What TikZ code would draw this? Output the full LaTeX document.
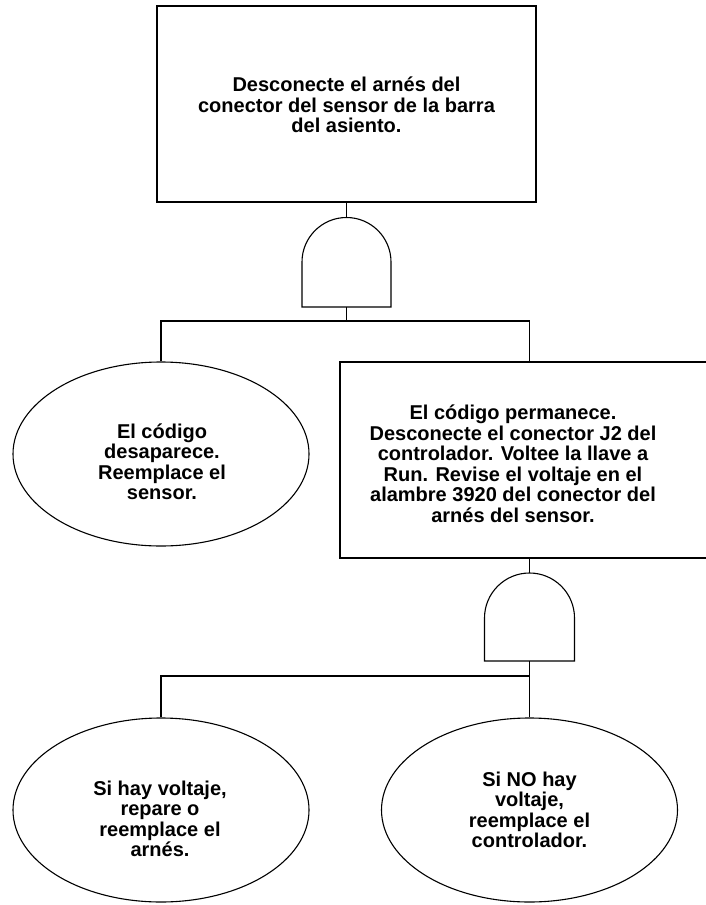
\documentclass[tikz,border=0pt]{standalone}
\usepackage{fontspec}
\setmainfont{Liberation Sans}
\usetikzlibrary{shapes.geometric}
\tikzset{
  every path/.style={line width=1.1pt},
  boxnode/.style={draw, rectangle, inner sep=0pt, line width=1.1pt},
  ovalnode/.style={draw, ellipse, inner sep=0pt, line width=1.1pt, minimum width=296pt, minimum height=184pt},
  txt/.style={align=center, inner sep=0pt, font=\fontsize{20}{20.5}\selectfont\bfseries},
  gate/.style={draw, line width=1.1pt, line join=miter}
}
\begin{document}
\begin{tikzpicture}[x=1pt, y=-1pt]
\useasboundingbox (0,0) rectangle (705,905);
% top box
\node[boxnode, minimum width=379pt, minimum height=196pt] (top) at (346.5,104) {};
\node[txt] (toptxt) at (346.5,105) {Desconecte el arnés del\\conector del sensor de la barra\\del asiento.};
% gate 1
\draw[gate] (302,307) -- (302,262) arc[start angle=180, end angle=0, radius=44.5pt] -- (391,307) -- cycle;
\coordinate (g1t) at (346.5,217.5);
\coordinate (g1b) at (346.5,307);
\coordinate (j1) at (346.5,321);
% left ellipse
\node[ovalnode] (e1) at (161,454) {};
\node[txt] (e1txt) at (162,462) {El código\\desaparece.\\Reemplace el\\sensor.};
% box 2 (right edge runs off the page)
\node[boxnode, minimum width=380pt, minimum height=196pt] (b2) at (530,460) {};
\node[txt] (b2txt) at (513,464) {El código permanece.\\Desconecte el conector J2 del\\controlador. Voltee la llave a\\Run. Revise el voltaje en el\\alambre 3920 del conector del\\arnés del sensor.};
\coordinate (b2in) at (529.5,362);
\coordinate (b2out) at (529.5,558);
% gate 2
\draw[gate] (484.5,661) -- (484.5,618) arc[start angle=180, end angle=0, radius=45pt] -- (574.5,661) -- cycle;
\coordinate (g2t) at (529.5,573);
\coordinate (g2b) at (529.5,661);
\coordinate (j2) at (529.5,676);
% bottom ellipses
\node[ovalnode] (e3) at (161,810) {};
\node[txt] (e3txt) at (160,819) {Si hay voltaje,\\repare o\\reemplace el\\arnés.};
\node[ovalnode] (e4) at (529.5,810) {};
\node[txt] (e4txt) at (529.5,810) {Si NO hay\\voltaje,\\reemplace el\\controlador.};
% connectors
\draw (top.south) -- (g1t);
\draw (g1b) -- (j1);
\draw (e1.north) |- (j1) -| (b2in);
\draw (b2out) -- (g2t);
\draw (g2b) -- (j2);
\draw (e3.north) |- (j2) -- (e4.north);
\end{tikzpicture}
\end{document}
